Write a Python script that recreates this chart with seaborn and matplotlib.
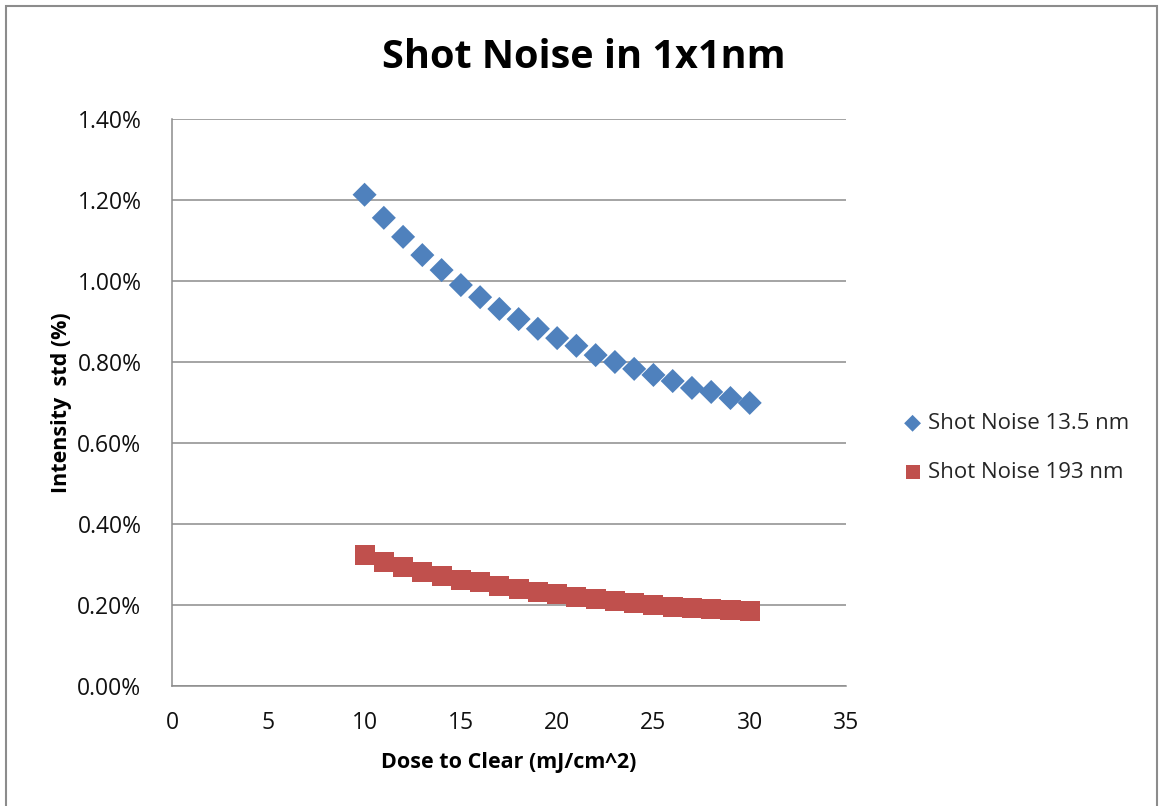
import matplotlib
matplotlib.use("Agg")
import matplotlib.pyplot as plt
from matplotlib.patches import Rectangle
from matplotlib.ticker import FuncFormatter, MultipleLocator
import seaborn as sns
import pandas as pd

dose = list(range(10, 31))
noise_135 = [1.213, 1.156, 1.109, 1.064, 1.027, 0.990, 0.960, 0.931, 0.906, 0.882,
             0.859, 0.840, 0.817, 0.800, 0.783, 0.768, 0.753, 0.736, 0.726, 0.711, 0.699]
noise_193 = [0.323, 0.306, 0.294, 0.281, 0.272, 0.262, 0.257, 0.247, 0.240, 0.232,
             0.227, 0.220, 0.215, 0.210, 0.205, 0.200, 0.195, 0.193, 0.190, 0.188, 0.185]
labels = ["Shot Noise 13.5 nm", "Shot Noise 193 nm"]

sns.set_theme(style="white")
plt.rcParams['font.family'] = ['Open Sans', 'DejaVu Sans']

fig = plt.figure(figsize=(11.62, 8.06), dpi=100)
ax = fig.add_axes([172/1162, 1-686/806, (846-172)/1162, (686-119)/806])

df = pd.DataFrame({
    "dose": dose * 2,
    "noise": noise_135 + noise_193,
    "series": [labels[0]] * len(dose) + [labels[1]] * len(dose),
})

sns.scatterplot(data=df[df.series == labels[0]], x="dose", y="noise", ax=ax,
                marker="D", s=150, color="#4F81BD", edgecolor="none", label=labels[0], zorder=3)
sns.scatterplot(data=df[df.series == labels[1]], x="dose", y="noise", ax=ax,
                marker="s", s=210, color="#C0504D", edgecolor="none", label=labels[1], zorder=3)

ax.set_xlim(0, 35)
ax.set_ylim(0, 1.4)
ax.xaxis.set_major_locator(MultipleLocator(5))
ax.yaxis.set_major_locator(MultipleLocator(0.2))
ax.yaxis.set_major_formatter(FuncFormatter(lambda v, p: f"{v:.2f}%"))
ax.grid(axis="y", color="#8c8c8c", lw=1.1)
ax.set_axisbelow(True)
for s in ["top", "right"]:
    ax.spines[s].set_visible(False)
for s in ["left", "bottom"]:
    ax.spines[s].set_color("#8c8c8c")
    ax.spines[s].set_linewidth(1.1)
ax.tick_params(axis="both", length=0, labelsize=16.5, colors="#111111")
ax.tick_params(axis="x", pad=18)
ax.tick_params(axis="y", pad=22)

ax.set_xlabel("Dose to Clear (mJ/cm^2)", fontsize=15.5, fontweight="bold", labelpad=12,
              color="black")
ax.set_ylabel("Intensity  std (%)", fontsize=15.5, fontweight="bold", labelpad=4,
              color="black")
fig.text(584/1162, 1-58/806, "Shot Noise in 1x1nm", fontsize=28.5, fontweight="bold",
         ha="center", va="center", color="black")

ax.get_legend().remove()
h, l = ax.get_legend_handles_labels()
fig.legend(h, l, loc="center left", bbox_to_anchor=(877/1162, 1-448/806), frameon=False,
           fontsize=16, handletextpad=0.0, labelspacing=1.25, markerscale=0.7,
           handlelength=1.4)

fig.patches.append(Rectangle((6/1162, -0.01), (1157-6)/1162, 1-6/806+0.01,
                             transform=fig.transFigure, fill=False, edgecolor="#8c8c8c",
                             lw=1.5))

fig.savefig("out.png", dpi=100)
